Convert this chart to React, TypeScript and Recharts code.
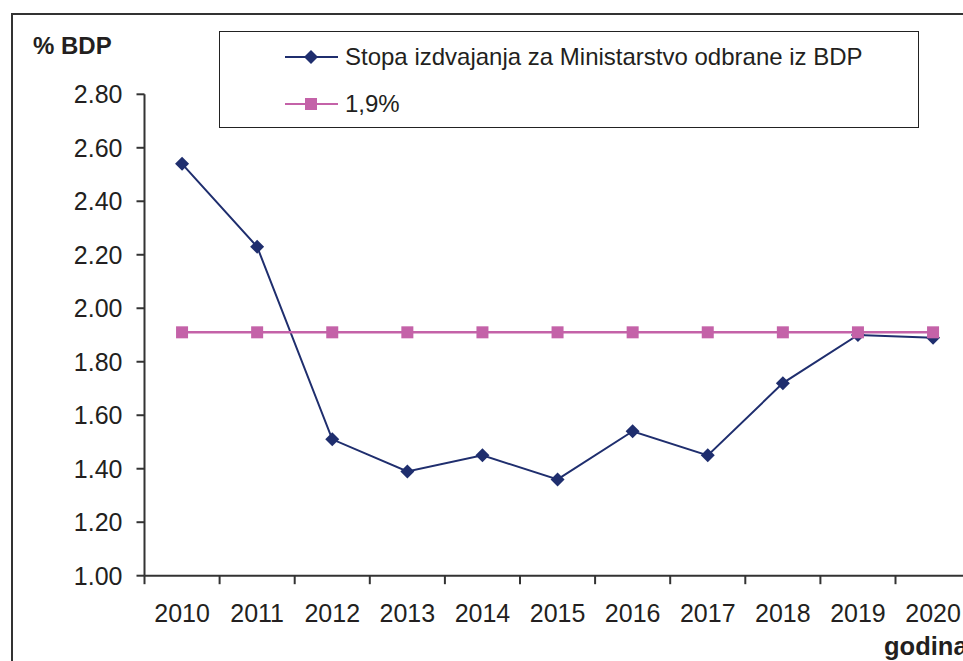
import React from 'react';
import { LineChart, Line, XAxis, YAxis, Legend } from 'recharts';

const years = ['2010', '2011', '2012', '2013', '2014', '2015', '2016', '2017', '2018', '2019', '2020'];
const rateValues = [2.54, 2.23, 1.51, 1.39, 1.45, 1.36, 1.54, 1.45, 1.72, 1.9, 1.89];
const thresholdValues = [1.91, 1.91, 1.91, 1.91, 1.91, 1.91, 1.91, 1.91, 1.91, 1.91, 1.91];
const yTicks = [1.0, 1.2, 1.4, 1.6, 1.8, 2.0, 2.2, 2.4, 2.6, 2.8];
const seriesNames = ['Stopa izdvajanja za Ministarstvo odbrane iz BDP', '1,9%'];
const seriesKeys = ['rate', 'threshold'];

const data = years.map((y, i) => ({ year: y, rate: rateValues[i], threshold: thresholdValues[i] }));

const FONT = '"Liberation Sans", Arial, Helvetica, sans-serif';
const TEXT = '#231f20';
const AXIS = '#333333';
const NAVY = '#1f2e6e';
const PINK = '#c462a8';

const CHART_W = 1000;
const CHART_H = 661;
const MARGIN = { top: 94.3, right: 29.4, bottom: 25.3, left: 84.5 };
const PLOT_W = CHART_W - MARGIN.left - MARGIN.right - 60;
const HALF_BAND = PLOT_W / years.length / 2;

const Diamond = (props: any) => {
  const { cx, cy, key } = props;
  if (cx == null || cy == null) return null;
  const r = 7;
  return <polygon key={key} points={`${cx},${cy - r} ${cx + r},${cy} ${cx},${cy + r} ${cx - r},${cy}`} fill={NAVY} />;
};

const Square = (props: any) => {
  const { cx, cy, key } = props;
  if (cx == null || cy == null) return null;
  return <rect key={key} x={cx - 6} y={cy - 6} width={12} height={12} fill={PINK} />;
};

const XTick = (props: any) => {
  const { x, y, payload, index } = props;
  return (
    <g>
      <line x1={x - HALF_BAND} x2={x - HALF_BAND} y1={y - 29} y2={y - 20.5} stroke={AXIS} strokeWidth={2} />
      {index === years.length - 1 && (
        <line x1={x + HALF_BAND} x2={x + HALF_BAND} y1={y - 29} y2={y - 20.5} stroke={AXIS} strokeWidth={2} />
      )}
      <text x={x} y={y} dy="0.71em" textAnchor="middle" fill={TEXT} fontSize={25} fontFamily={FONT}>
        {payload.value}
      </text>
    </g>
  );
};

const LegendContent = (props: any) => {
  const payload = [...(props.payload || [])].sort(
    (a: any, b: any) => seriesKeys.indexOf(a.dataKey) - seriesKeys.indexOf(b.dataKey)
  );
  return (
    <div
      style={{
        boxSizing: 'border-box',
        width: 700,
        height: 97,
        border: '1.5px solid #222',
        background: '#fff',
        position: 'relative',
      }}
    >
      {payload.map((entry: any, i: number) => {
        const color = entry.color;
        const isRate = entry.dataKey === 'rate';
        return (
          <div
            key={i}
            style={{
              position: 'absolute',
              left: 64,
              top: i === 0 ? 10 : 57,
              height: 30,
              display: 'flex',
              alignItems: 'center',
            }}
          >
            <svg width={56} height={30} style={{ display: 'block' }}>
              <line x1={1} x2={54} y1={15} y2={15} stroke={color} strokeWidth={2} />
              {isRate ? (
                <polygon points="27,8 34,15 27,22 20,15" fill={color} />
              ) : (
                <rect x={21} y={9} width={12} height={12} fill={color} />
              )}
            </svg>
            <span
              style={{
                marginLeft: 5,
                fontFamily: FONT,
                fontSize: 24,
                color: TEXT,
                whiteSpace: 'nowrap',
                lineHeight: '30px',
              }}
            >
              {entry.value}
            </span>
          </div>
        );
      })}
    </div>
  );
};

export default function App() {
  return (
    <div
      style={{
        position: 'fixed',
        left: 0,
        top: 0,
        width: 963,
        height: 661,
        overflow: 'hidden',
        background: '#fff',
      }}
    >
      <div
        style={{
          position: 'absolute',
          left: 11,
          top: 13,
          width: 1100,
          height: 800,
          border: '2px solid #333',
        }}
      />
      <div style={{ position: 'absolute', left: 0, top: 0 }}>
        <LineChart width={CHART_W} height={CHART_H} data={data} margin={MARGIN}>
          <XAxis
            dataKey="year"
            height={60}
            padding={{ left: HALF_BAND, right: HALF_BAND }}
            axisLine={{ stroke: AXIS, strokeWidth: 2 }}
            tickLine={false}
            tickSize={8}
            tickMargin={21}
            tick={<XTick />}
            interval={0}
          />
          <YAxis
            width={60}
            domain={[1, 2.8]}
            ticks={yTicks}
            tickFormatter={(v: number) => v.toFixed(2)}
            axisLine={{ stroke: AXIS, strokeWidth: 2 }}
            tickLine={{ stroke: AXIS, strokeWidth: 2 }}
            tickSize={8}
            tickMargin={14}
            tick={{ fill: TEXT, fontSize: 25, fontFamily: FONT }}
            allowDataOverflow
          />
          <Legend
            layout="vertical"
            align="center"
            verticalAlign="middle"
            content={<LegendContent />}
            wrapperStyle={{ position: 'absolute', left: 219, top: 31, width: 700, height: 97 }}
          />
          <Line
            type="linear"
            dataKey="rate"
            name={seriesNames[0]}
            stroke={NAVY}
            strokeWidth={2}
            dot={Diamond}
            activeDot={false}
            isAnimationActive={false}
            legendType="diamond"
          />
          <Line
            type="linear"
            dataKey="threshold"
            name={seriesNames[1]}
            stroke={PINK}
            strokeWidth={2.5}
            dot={Square}
            activeDot={false}
            isAnimationActive={false}
            legendType="square"
          />
        </LineChart>
      </div>
      <svg
        width={963}
        height={661}
        style={{ position: 'absolute', left: 0, top: 0, pointerEvents: 'none' }}
      >
        <text x={33} y={54} fontFamily={FONT} fontSize={24} fontWeight="bold" fill={TEXT}>
          % BDP
        </text>
        <text x={884} y={655} fontFamily={FONT} fontSize={25.5} fontWeight="bold" fill={TEXT}>
          godina
        </text>
      </svg>
    </div>
  );
}
